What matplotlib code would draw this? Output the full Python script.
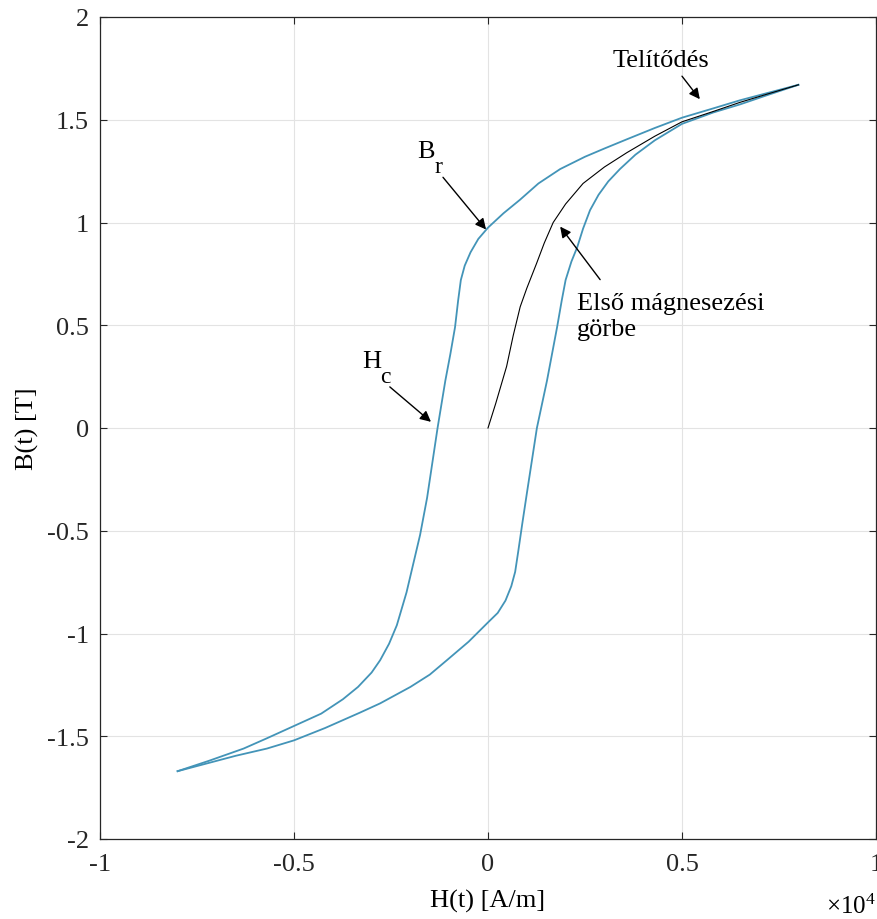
import matplotlib
matplotlib.use('Agg')
from matplotlib import pyplot as plt
from matplotlib.ticker import FuncFormatter

plt.rcParams['font.family'] = ['Liberation Serif', 'DejaVu Serif']
plt.rcParams['mathtext.fontset'] = 'custom'
plt.rcParams['mathtext.rm'] = 'Liberation Serif'
plt.rcParams['axes.unicode_minus'] = False

# H in 1e4 A/m, B in T
# descending branch (from +saturation to -saturation)
h_down = [0.80, 0.72, 0.65, 0.58, 0.50, 0.43, 0.358, 0.30, 0.25, 0.186,
          0.13, 0.082, 0.04, 0.0, -0.025, -0.045, -0.06, -0.07, -0.077, -0.085,
          -0.097, -0.11, -0.13, -0.157, -0.175, -0.19, -0.21, -0.235, -0.255, -0.278,
          -0.30, -0.335, -0.374, -0.43, -0.50, -0.57, -0.63, -0.72, -0.80]
b_down = [1.67, 1.63, 1.595, 1.555, 1.51, 1.46, 1.405, 1.36, 1.32, 1.26,
          1.19, 1.11, 1.045, 0.975, 0.92, 0.855, 0.79, 0.72, 0.62, 0.49,
          0.36, 0.23, 0.0, -0.34, -0.52, -0.64, -0.80, -0.96, -1.05, -1.13,
          -1.19, -1.26, -1.32, -1.39, -1.45, -1.51, -1.56, -1.62, -1.67]

# ascending branch (from -saturation to +saturation)
h_up = [-0.80, -0.72, -0.65, -0.57, -0.50, -0.42, -0.33, -0.278, -0.20, -0.15,
        -0.106, -0.05, 0.0, 0.025, 0.045, 0.06, 0.07, 0.078, 0.088, 0.10,
        0.113, 0.126, 0.152, 0.178, 0.19, 0.20, 0.215, 0.23, 0.245, 0.263,
        0.285, 0.31, 0.34, 0.38, 0.43, 0.50, 0.58, 0.65, 0.72, 0.80]
b_up = [-1.67, -1.63, -1.595, -1.56, -1.52, -1.46, -1.385, -1.34, -1.26, -1.20,
        -1.13, -1.04, -0.946, -0.90, -0.84, -0.77, -0.70, -0.60, -0.47, -0.32,
        -0.16, 0.0, 0.23, 0.49, 0.62, 0.72, 0.81, 0.88, 0.97, 1.06,
        1.135, 1.20, 1.26, 1.33, 1.40, 1.48, 1.535, 1.575, 1.62, 1.67]

# first magnetization curve
h_init = [0.0, 0.02, 0.048, 0.065, 0.083, 0.10, 0.125, 0.145, 0.168, 0.20,
          0.245, 0.30, 0.358, 0.43, 0.50, 0.58, 0.65, 0.72, 0.80]
b_init = [0.0, 0.12, 0.30, 0.45, 0.59, 0.68, 0.80, 0.90, 1.0, 1.09,
          1.19, 1.27, 1.34, 1.42, 1.49, 1.54, 1.585, 1.625, 1.67]

x_ticks = [-1, -0.5, 0, 0.5, 1]
y_ticks = [-2, -1.5, -1, -0.5, 0, 0.5, 1, 1.5, 2]

fig = plt.figure(figsize=(8.77, 9.2), dpi=100)
ax = fig.add_axes([100 / 877, 80 / 920, 776 / 877, 822 / 920])

loop_color = '#4394b8'
ax.plot(h_down, b_down, color=loop_color, lw=1.3)
ax.plot(h_up, b_up, color=loop_color, lw=1.3)
ax.plot(h_init, b_init, color='black', lw=0.8)

ax.set_xlim(-1, 1)
ax.set_ylim(-2, 2)
ax.set_xticks(x_ticks)
ax.set_yticks(y_ticks)
fmt = FuncFormatter(lambda v, p: '%g' % v)
ax.xaxis.set_major_formatter(fmt)
ax.yaxis.set_major_formatter(fmt)
ax.grid(True, color='#e3e3e3', lw=0.8)
ax.set_axisbelow(True)
ax.tick_params(direction='in', length=5, width=0.8, top=True, right=True,
               labelsize=19, colors='#262626')
ax.tick_params(axis='x', pad=10)
ax.tick_params(axis='y', pad=8)
for s in ax.spines.values():
    s.set_color('#262626')
    s.set_linewidth(0.9)

ax.set_xlabel('H(t) [A/m]', fontsize=19, labelpad=10)
ax.set_ylabel('B(t) [T]', fontsize=19, labelpad=6)
fig.text(876 / 877, 13 / 920, r'$\times\mathregular{10^{4}}$', ha='right',
         va='center', fontsize=18)

arrow = dict(arrowstyle='-|>', color='black', lw=1.0, mutation_scale=16,
             shrinkA=0, shrinkB=0)

ax.text(0.446, 1.79, 'Telítődés', ha='center', va='center', fontsize=19)
ax.annotate('', xy=(0.546, 1.60), xytext=(0.50, 1.712), arrowprops=arrow)

ax.text(-0.183, 1.317, 'B', ha='left', va='baseline', fontsize=19)
ax.text(-0.137, 1.244, 'r', ha='left', va='baseline', fontsize=17)
ax.annotate('', xy=(-0.005, 0.966), xytext=(-0.116, 1.22), arrowprops=arrow)

ax.text(-0.325, 0.298, 'H', ha='left', va='baseline', fontsize=19)
ax.text(-0.278, 0.224, 'c', ha='left', va='baseline', fontsize=17)
ax.annotate('', xy=(-0.147, 0.03), xytext=(-0.253, 0.2), arrowprops=arrow)

ax.text(0.229, 0.545, 'Első mágnesezési\ngörbe', ha='left', va='center',
        linespacing=1.25, fontsize=19)
ax.annotate('', xy=(0.186, 0.98), xytext=(0.289, 0.722), arrowprops=arrow)

plt.savefig('out.png', dpi=100)
